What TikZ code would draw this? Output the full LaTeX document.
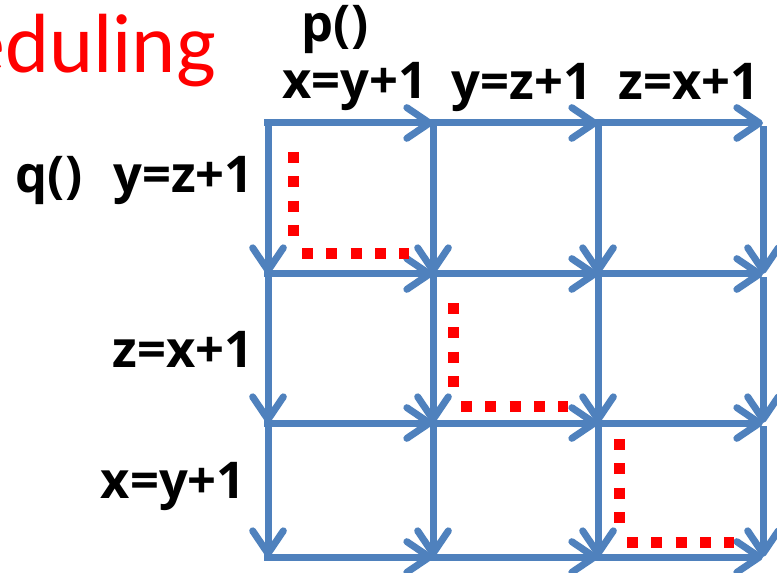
\documentclass[tikz,border=0pt]{standalone}
\usepackage{fontspec}
\setmainfont{Open Sans}
\newfontfamily\titlefont{Carlito}
\usepackage{xcolor}
\usetikzlibrary{arrows.meta}
\definecolor{gridblue}{RGB}{79,129,189}

\begin{document}
\begin{tikzpicture}[x=0.75pt, y=-0.75pt,
  flow/.style={gridblue, line width=5.25pt, -{Straight Barb[length=17pt, width=23pt, round]}},
  reddots/.style={red, line width=8.25pt, dash pattern=on 8.25pt off 10pt},
  lbl/.style={font=\fontsize{38}{42}\selectfont\bfseries, inner sep=0pt}]
  \useasboundingbox (0,0) rectangle (777,573);
  \clip (0,0) rectangle (777,573);
  % Grid points (columns = p(), rows = q())
  \foreach \i/\x in {1/268, 2/433, 3/598, 4/763} {
    \foreach \j/\y in {1/123, 2/274, 3/423, 4/557} {
      \coordinate (c\i\j) at (\x,\y);
    }
  }
  % Horizontal steps of p()
  \foreach \j in {1,...,4} {
    \foreach \i/\k in {1/2, 2/3, 3/4} {
      \draw[flow, shorten <=-3pt] (c\i\j) -- (c\k\j);
    }
  }
  % Vertical steps of q()
  \foreach \i in {1,...,4} {
    \foreach \j/\k in {1/2, 2/3, 3/4} {
      \draw[flow, shorten <=2.5pt] (c\i\j) -- (c\i\k);
    }
  }
  % Red dotted schedules along the diagonal
  \foreach \vx/\va/\vb/\hy/\ha/\hb in {293/152/237/254/302/409,
                                      453/303/388/406/461/568,
                                      619/439/524/542/627/734} {
    \draw[reddots] (\vx,\va) -- (\vx,\vb);
    \draw[reddots] (\ha,\hy) -- (\hb,\hy);
  }
  % Title (cut at the left edge)
  \node[red, font=\titlefont\fontsize{63}{70}\selectfont, anchor=base east, inner sep=0pt]
    (title) at (216,73) {eduling};
  % Column labels
  \node[lbl, anchor=base] (p) at (335,42) {p()};
  \node[lbl, anchor=base] (px) at (355,99) {x=y+1};
  \node[lbl, anchor=base] (py) at (522,100) {y=z+1};
  \node[lbl, anchor=base] (pz) at (689,100) {z=x+1};
  % Row labels
  \node[lbl, anchor=base] (q) at (49,193) {q()};
  \node[lbl, anchor=base east] (qy) at (254,193) {y=z+1};
  \node[lbl, anchor=base east] (qz) at (254,367) {z=x+1};
  \node[lbl, anchor=base east] (qx) at (246,498) {x=y+1};
\end{tikzpicture}
\end{document}
